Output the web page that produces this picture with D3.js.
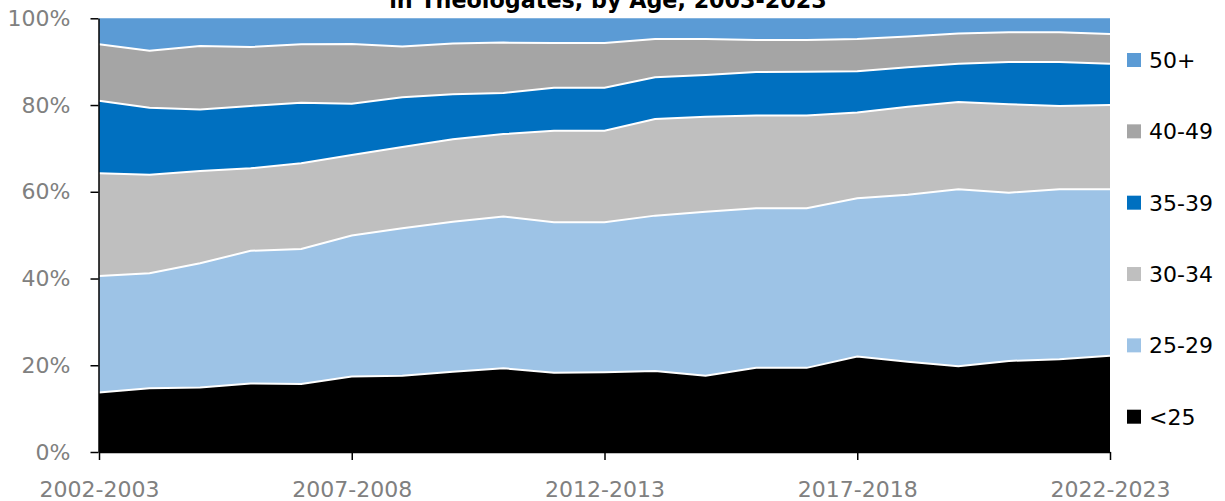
<!DOCTYPE html>
<html>
<head>
<meta charset="utf-8">
<script src="https://cdn.jsdelivr.net/npm/d3@7"></script>
<style>
  html, body { margin: 0; padding: 0; background: #fff; }
  svg { display: block; }
  text { font-family: "DejaVu Sans", sans-serif; }
</style>
</head>
<body>
<svg id="chart" width="1225" height="501"></svg>
<script>
const categories = ["2002-2003","2003-2004","2004-2005","2005-2006","2006-2007","2007-2008","2008-2009","2009-2010","2010-2011","2011-2012","2012-2013","2013-2014","2014-2015","2015-2016","2016-2017","2017-2018","2018-2019","2019-2020","2020-2021","2021-2022","2022-2023"];
const seriesNames = ["<25","25-29","30-34","35-39","40-49","50+"];
const under25 = [13.7,14.7,14.9,15.8,15.7,17.4,17.6,18.5,19.3,18.3,18.4,18.7,17.6,19.4,19.4,22.0,20.8,19.8,21.0,21.4,22.2];
const age25to29 = [26.9,26.5,28.6,30.6,31.1,32.5,34.0,34.6,35.0,34.7,34.6,35.8,37.8,36.8,36.8,36.5,38.5,40.8,38.8,39.2,38.4];
const age30to34 = [23.7,22.7,21.3,19.0,19.8,18.6,18.7,19.0,19.0,21.1,21.1,22.3,21.9,21.4,21.4,19.8,20.3,20.1,20.4,19.2,19.4];
const age35to39 = [16.7,15.5,14.2,14.4,13.9,11.8,11.5,10.4,9.5,9.9,9.9,9.6,9.6,10.0,10.1,9.5,9.1,8.8,9.7,10.1,9.5];
const age40to49 = [13.0,13.1,14.6,13.6,13.5,13.8,11.7,11.7,11.6,10.3,10.3,8.8,8.3,7.4,7.3,7.4,7.1,7.0,6.9,6.9,6.9];
const age50plus = [6.0,7.5,6.4,6.6,6.0,5.9,6.5,5.8,5.6,5.7,5.7,4.8,4.8,5.0,5.0,4.8,4.2,3.5,3.2,3.2,3.6];
const yTicks = [0,20,40,60,80,100];
const xTickLabels = ["2002-2003","2007-2008","2012-2013","2017-2018","2022-2023"];
const titleText = "in Theologates, by Age, 2003-2023";

const colors = {"<25":"#000000","25-29":"#9DC3E6","30-34":"#BFBFBF","35-39":"#0070C0","40-49":"#A5A5A5","50+":"#5B9BD5"};
const seriesArrays = [under25, age25to29, age30to34, age35to39, age40to49, age50plus];

const rows = categories.map((c, i) => {
  const r = {cat: c};
  seriesNames.forEach((s, k) => { r[s] = seriesArrays[k][i]; });
  return r;
});

const svg = d3.select("#chart");
const x = d3.scalePoint().domain(categories).range([99, 1110]);
const y = d3.scaleLinear().domain([0, 100]).range([452, 18.3]);

const stacked = d3.stack().keys(seriesNames).offset(d3.stackOffsetExpand)(rows);
const yS = v => y(v * 100);

const area = d3.area()
  .x(d => x(d.data.cat))
  .y0(d => yS(d[0]))
  .y1(d => yS(d[1]));
const topLine = d3.line()
  .x(d => x(d.data.cat))
  .y(d => yS(d[1]));

const g = svg.append("g");
g.selectAll("path.area").data(stacked).join("path")
  .attr("class", "area")
  .attr("d", area)
  .attr("fill", d => colors[d.key]);
g.selectAll("path.sep").data(stacked.slice(0, -1)).join("path")
  .attr("class", "sep")
  .attr("d", topLine)
  .attr("fill", "none")
  .attr("stroke", "#ffffff")
  .attr("stroke-width", 2);

// Y axis
const yAxis = svg.append("g").attr("transform", "translate(98.5,0)")
  .call(d3.axisLeft(y).tickValues(yTicks).tickFormat(d => d + "%").tickSize(8).tickSizeOuter(0).tickPadding(20));
yAxis.select(".domain").attr("stroke", "#000").attr("stroke-width", 1.5);
yAxis.selectAll(".tick line").attr("stroke", "#000").attr("stroke-width", 1.5);
yAxis.selectAll(".tick text").attr("fill", "#808080").style("font-size", "22px").style("font-family", "DejaVu Sans");

// X axis
const xAxis = svg.append("g").attr("transform", "translate(0,452)")
  .call(d3.axisBottom(x).tickValues(xTickLabels).tickSize(8).tickSizeOuter(0));
xAxis.select(".domain").attr("stroke", "#000").attr("stroke-width", 1.5);
xAxis.selectAll(".tick line").attr("stroke", "#000").attr("stroke-width", 1.5);
xAxis.selectAll(".tick text").attr("fill", "#808080").style("font-size", "22px").style("font-family", "DejaVu Sans")
  .attr("dy", null).attr("y", 45);

// Title (second line visible at top edge)
const title = svg.append("text")
  .attr("x", 608).attr("y", 8)
  .attr("text-anchor", "middle")
  .style("font-weight", "bold").style("font-size", "22px")
  .attr("fill", "#000")
  .text(titleText);
const tw = title.node().getComputedTextLength();
title.style("font-size", (22 * 438 / tw).toFixed(2) + "px");

// Legend
const legendOrder = seriesNames.slice().reverse();
const legY = d3.scalePoint().domain(legendOrder).range([60, 416.7]);
const leg = svg.append("g");
leg.selectAll("rect").data(legendOrder).join("rect")
  .attr("x", 1127).attr("y", d => legY(d) - 7)
  .attr("width", 14).attr("height", 14)
  .attr("fill", d => colors[d]);
leg.selectAll("text").data(legendOrder).join("text")
  .attr("x", 1149).attr("y", d => legY(d))
  .attr("dy", "0.36em")
  .style("font-size", "22px")
  .attr("fill", "#000")
  .text(d => d);
</script>
</body>
</html>
